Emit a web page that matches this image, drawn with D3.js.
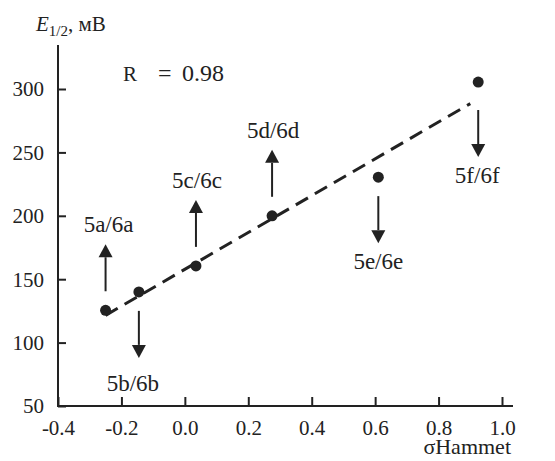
<!DOCTYPE html>
<html>
<head>
<meta charset="utf-8">
<script src="https://cdn.jsdelivr.net/npm/d3@7.9.0/dist/d3.min.js"></script>
<style>
  body { margin: 0; background: #fff; }
</style>
</head>
<body>
<svg id="chart" width="555" height="461"></svg>
<script>
// values
const compounds = ['5a/6a', '5b/6b', '5c/6c', '5d/6d', '5e/6e', '5f/6f'];
const sigma = [-0.25, -0.145, 0.035, 0.275, 0.61, 0.925];
const e12 = [125.5, 140, 160.5, 200, 230.5, 305.5];
const shift = ['up', 'down', 'up', 'up', 'down', 'down'];
const fitX = [-0.25, 0.9];
const fitY = [121.5, 288.5];
const xTicks = [-0.4, -0.2, 0.0, 0.2, 0.4, 0.6, 0.8, 1.0];
const yTicks = [50, 100, 150, 200, 250, 300];

const FONT = 'Liberation Serif';
const svg = d3.select('#chart');
const ink = '#222';

let x = d3.scaleLinear().domain([-0.4, 1.0]).range([58, 502]);
let y = d3.scaleLinear().domain([50, 300]).range([406, 89]);

// axes, ticks pointing inward
let xAxis = svg.append('g')
  .attr('transform', 'translate(0,406)')
  .call(d3.axisBottom(x).tickValues(xTicks)
    .tickFormat(d => d3.format('.1f')(d).replace('−', '-'))
    .tickSizeInner(-9).tickSizeOuter(0).tickPadding(14));
let yAxis = svg.append('g')
  .attr('transform', 'translate(58,0)')
  .call(d3.axisLeft(y).tickValues(yTicks).tickSizeInner(-8).tickSizeOuter(0).tickPadding(14));

[xAxis, yAxis].forEach(g => {
  g.attr('font-family', null).attr('font-size', null);
  g.select('.domain').remove();
  g.selectAll('line').attr('stroke', ink).attr('stroke-width', 2);
  g.selectAll('text').attr('font-size', 21);
});
xAxis.selectAll('text').attr('dy', '0.71em');
yAxis.selectAll('text').attr('dy', '0.33em');

// axis lines a bit longer than the tick range
svg.append('line').attr('x1', 58).attr('x2', 513).attr('y1', 406).attr('y2', 406)
  .attr('stroke', ink).attr('stroke-width', 2);
svg.append('line').attr('x1', 58).attr('x2', 58).attr('y1', 407).attr('y2', 45)
  .attr('stroke', ink).attr('stroke-width', 2);

// y title
let yt = svg.append('text').attr('x', 36).attr('y', 31).attr('font-size', 21);
yt.append('tspan').attr('font-style', 'italic').text('E');
yt.append('tspan').attr('font-size', 15).attr('dy', 5).text('1/2');
yt.append('tspan').attr('dy', -5).text(', мВ');

// x title
svg.append('text').attr('x', 511).attr('y', 454).attr('text-anchor', 'end')
  .attr('font-size', 22).text('σHammet');

// R
svg.append('text').attr('x', 123).attr('y', 81).attr('font-size', 21).text('R');
svg.append('text').attr('x', 158).attr('y', 81).attr('font-size', 24).text('=');
svg.append('text').attr('x', 182).attr('y', 81).attr('font-size', 24).text('0.98');

// fit line
svg.append('line')
  .attr('x1', x(fitX[0])).attr('y1', y(fitY[0]))
  .attr('x2', x(fitX[1])).attr('y2', y(fitY[1]))
  .attr('stroke', ink).attr('stroke-width', 3)
  .attr('stroke-dasharray', '14,8');

// points
svg.selectAll('circle.pt')
  .data(sigma)
  .join('circle')
  .attr('class', 'pt')
  .attr('cx', d => x(d))
  .attr('cy', (d, i) => y(e12[i]))
  .attr('r', 5.5)
  .attr('fill', ink);

// arrows and labels
const gap = 19, len = 47, head = 13, hw = 7;
const labelDx = [3, -6, 1, 1, 0, -1];
compounds.forEach((name, i) => {
  let cx = x(sigma[i]);
  let cy = y(e12[i]);
  let dir = shift[i] === 'up' ? -1 : 1;
  let g0 = (i === 5) ? 28 : gap;
  let start = cy + dir * g0;
  let tip = start + dir * len;
  svg.append('line')
    .attr('x1', cx).attr('x2', cx)
    .attr('y1', start).attr('y2', tip - dir * head)
    .attr('stroke', ink).attr('stroke-width', 2);
  svg.append('path')
    .attr('d', `M${cx},${tip} L${cx - hw},${tip - dir * head} L${cx + hw},${tip - dir * head} Z`)
    .attr('fill', ink);
  let ly = dir < 0 ? tip - 12 : tip + (i === 1 ? 33 : 26);
  svg.append('text')
    .attr('x', cx + labelDx[i]).attr('y', ly)
    .attr('text-anchor', 'middle')
    .attr('font-size', 23)
    .text(name);
});

// same serif face everywhere
svg.selectAll('text')
  .attr('font-family', FONT)
  .style('font-family', FONT)
  .attr('fill', ink);
</script>
</body>
</html>
